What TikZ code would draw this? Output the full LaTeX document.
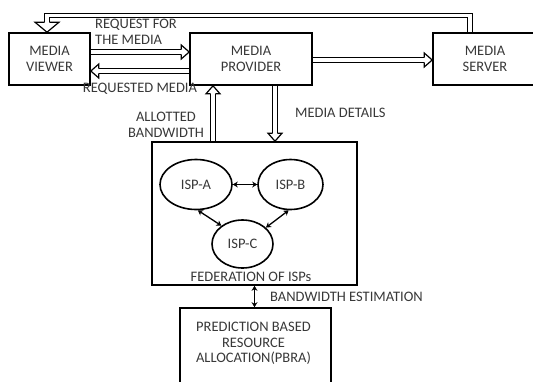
\documentclass[tikz,border=0pt]{standalone}
\usepackage{fontspec}
\setmainfont{Carlito}
\usetikzlibrary{arrows.meta,calc,shapes.geometric}

% open arrow head for the double-line connectors: tip, direction, length, half width
\newcommand{\ahead}[4]{\draw[headln, shift={(#1)}, rotate=#2]
  (-#3,2.4) -- (-#3,#4) -- (0,0) -- (-#3,-#4) -- (-#3,-2.4);}

\begin{document}
\begin{tikzpicture}[x=1pt,y=1pt,
  box/.style={draw, line width=1.6pt, inner sep=0pt, align=center,
    text=black!78, font=\fontsize{14.5}{15.5}\selectfont},
  isp/.style={box, ellipse},
  lbl/.style={text=black!78, font=\fontsize{14.5}{15.5}\selectfont, inner sep=0pt, align=center},
  dbl/.style={double, double distance=3.4pt, line width=1.2pt},
  headln/.style={line width=1.2pt, line join=miter},
  biarr/.style={line width=1.3pt, {Stealth[length=5pt,width=6pt]}-{Stealth[length=5pt,width=6pt]}}]
\useasboundingbox (0,0) rectangle (533,-381);

% top row
\node[box, minimum width=81, minimum height=52] (vw) at (49.5,-59) {MEDIA\\VIEWER};
\node[box, minimum width=122, minimum height=52] (pv) at (251,-59) {MEDIA\\PROVIDER};
\node[box, minimum width=104, minimum height=52] (srv) at (485,-59) {MEDIA\\SERVER};

% federation of ISPs
\node[box, minimum width=205, minimum height=143] (fed) at (254.5,-213.5) {};
\node[isp, minimum width=72, minimum height=50] (ispA) at (196,-184.5) {ISP-A};
\node[isp, minimum width=65, minimum height=50] (ispB) at (290.5,-184.5) {ISP-B};
\node[isp, minimum width=61, minimum height=48] (ispC) at (242.5,-244) {ISP-C};
\node[lbl] (fedlbl) at (251,-277) {FEDERATION OF ISPs};

% prediction unit
\node[box, minimum width=151, minimum height=82] (pbra) at (255.5,-349) {};
\node[lbl, anchor=north] (pbralbl) at ($(pbra.north)+(-2,-15)$)
  {PREDICTION BASED\\RESOURCE\\ALLOCATION(PBRA)};

% helper positions
\coordinate (yreq) at (0,-52);
\coordinate (yret) at (0,-71);
\coordinate (ysrv) at (0,-60);
\coordinate (xall) at (213,0);
\coordinate (xdet) at (275,0);
\coordinate (xloop) at (470,0);
\coordinate (xin) at (47,0);
\coordinate (ytop) at (0,-15.5);

% viewer -> provider
\draw[dbl, shorten >=8pt] (vw.east |- yreq) -- (pv.west |- yreq);
\ahead{pv.west |- yreq}{0}{8}{7}
% provider -> viewer
\draw[dbl, shorten >=8pt] (pv.west |- yret) -- (vw.east |- yret);
\ahead{vw.east |- yret}{180}{8}{7}
% provider -> server
\draw[dbl, shorten >=8pt] (pv.east |- ysrv) -- (srv.west |- ysrv);
\ahead{srv.west |- ysrv}{0}{8}{7}
% server -> viewer (top loop)
\draw[dbl, shorten >=10pt] (srv.north -| xloop) -- (xloop |- ytop) -- (xin |- ytop) -- (vw.north -| xin);
\ahead{vw.north -| xin}{-90}{10}{12}
% federation -> provider
\draw[dbl, shorten >=8pt] (fed.north -| xall) -- (pv.south -| xall);
\ahead{pv.south -| xall}{90}{8}{7}
% provider -> federation
\draw[dbl, shorten >=8pt] (pv.south -| xdet) -- (fed.north -| xdet);
\ahead{fed.north -| xdet}{-90}{8}{7}

% links inside the federation
\draw[biarr] (ispA) -- (ispB);
\draw[biarr] (ispA.-86) -- (ispC.139);
\draw[biarr] (ispB.-94) -- (ispC.35);
% federation <-> prediction unit
\draw[biarr, line width=1.6pt] (fed.south) -- (fed.south |- pbra.north);

% connector labels
\node[lbl, align=left, anchor=west] (lreq) at (95,-32) {REQUEST FOR\\THE MEDIA};
\node[lbl] (lret) at (140,-89) {REQUESTED MEDIA};
\node[lbl] (lall) at (166,-125) {ALLOTTED\\BANDWIDTH};
\node[lbl, anchor=west] (ldet) at (295,-113) {MEDIA DETAILS};
\node[lbl, anchor=west] (lest) at (270,-297) {BANDWIDTH ESTIMATION};
\end{tikzpicture}
\end{document}
